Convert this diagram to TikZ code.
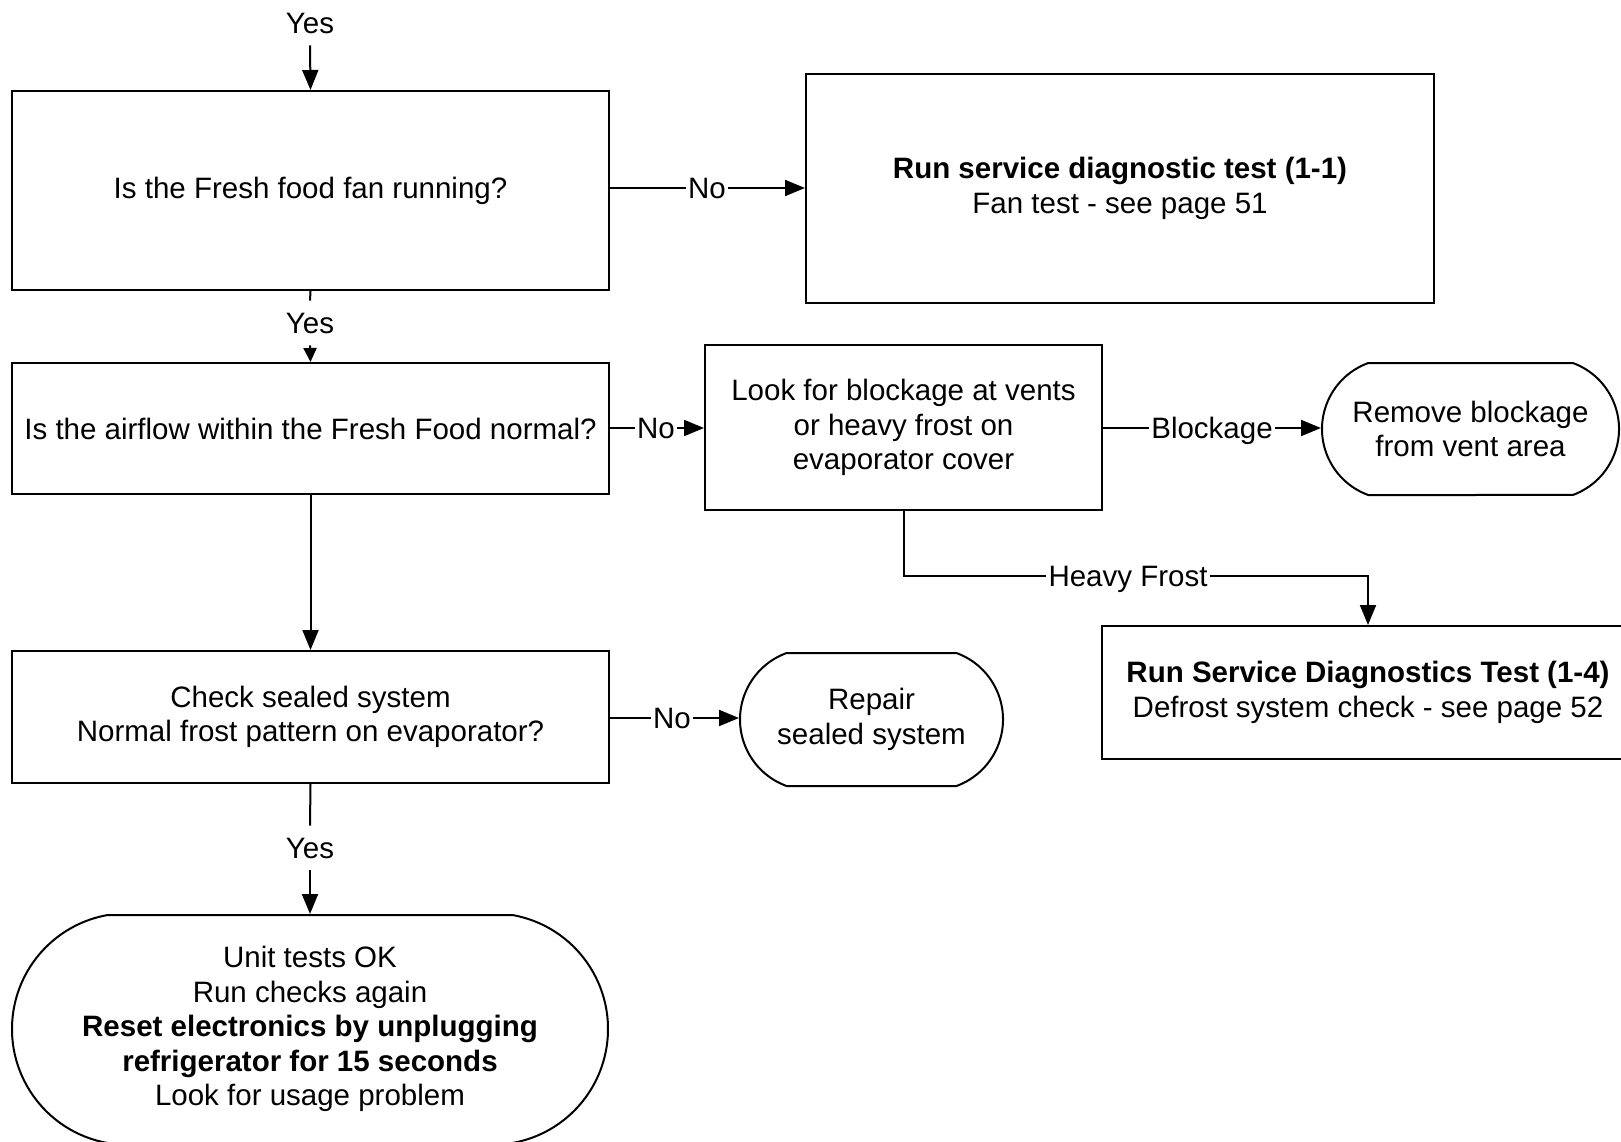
\documentclass[tikz,border=0pt]{standalone}
\usepackage{fontspec}
\setmainfont{Liberation Sans}
\usetikzlibrary{arrows.meta,shapes.misc}
\begin{document}
\begin{tikzpicture}[x=1pt,y=-1pt,
  font=\fontsize{29.5}{34.5}\selectfont,
  every node/.style={align=center},
  box/.style={draw, line width=2pt, inner sep=0pt},
  term/.style={draw, line width=2pt, inner sep=0pt, rounded rectangle, rounded rectangle arc length=140},
  hlab/.style={fill=white, inner xsep=2pt, inner ysep=0pt, text depth=0pt},
  vlab/.style={fill=white, inner xsep=2pt, inner ysep=12pt, text depth=0pt},
  conn/.style={line width=2pt},
  arr/.style={line width=2pt, -{Triangle[length=20pt,width=16pt]}},
  sarr/.style={line width=2pt, -{Triangle[length=14pt,width=13pt]}}
]
\useasboundingbox (0,0) rectangle (1621,1142);
\clip (0,0) rectangle (1621,1142);

% boxes
\node[box, minimum width=597, minimum height=199] (b1) at (310.5,190.5) {Is the Fresh food fan running?};
\node[box, minimum width=628, minimum height=229] (b2) at (1120,188.5) {\textbf{Run service diagnostic test (1-1)}\\Fan test - see page 51};
\node[box, minimum width=597, minimum height=131] (b3) at (310.5,428.5) {Is the airflow within the Fresh Food normal?};
\node[box, minimum width=397, minimum height=165] (b4) at (903.5,427.5) {Look for blockage at vents\\or heavy frost on\\evaporator cover};
\node[term, minimum width=297, minimum height=132] (rb) at (1470.5,429) {Remove blockage\\from vent area};
\node[box, minimum width=532, minimum height=133] (b5) at (1368,692.5) {\textbf{Run Service Diagnostics Test (1-4)}\\Defrost system check - see page 52};
\node[box, minimum width=597, minimum height=132] (b6) at (310.5,717) {Check sealed system\\Normal frost pattern on evaporator?};
\node[term, minimum width=263, minimum height=133] (rs) at (871.5,719.5) {Repair\\sealed system};
\node[term, rounded rectangle arc length=160, minimum width=596, minimum height=228] (ut) at (310,1029) {Unit tests OK\\Run checks again\\\textbf{Reset electronics by unplugging}\\\textbf{refrigerator for 15 seconds}\\Look for usage problem};

% labels
\node[vlab] (y1) at (310,23) {Yes};
\node[vlab] (y2) at (310,323) {Yes};
\node[vlab] (y3) at (310,848) {Yes};
\node[hlab] (n1) at (707,188) {No};
\node[hlab] (n2) at (656,428) {No};
\node[hlab] (bl) at (1212,428) {Blockage};
\node[hlab] (hf) at (1128,576) {Heavy Frost};
\node[hlab] (n3) at (672,718) {No};

% connectors
\draw[arr] (y1.south) -- (b1.north);
\draw[conn] (b1.south) -- (y2.north);
\draw[sarr] (y2.south) -- (b3.north);
\draw[conn] (b1.east |- n1) -- (n1.west);
\draw[arr] (n1.east) -- (b2.west |- n1);
\draw[conn] (b3.east |- n2) -- (n2.west);
\draw[arr] (n2.east) -- (b4.west |- n2);
\draw[conn] (b4.east |- bl) -- (bl.west);
\draw[arr] (bl.east) -- (rb.west |- bl);
\draw[conn] (b4.south) |- (hf.west);
\draw[arr] (hf.east) -| (b5.north);
\draw[arr] (b3.south) -- (b6.north);
\draw[conn] (b6.east |- n3) -- (n3.west);
\draw[arr] (n3.east) -- (rs.west |- n3);
\draw[conn] (b6.south) -- (y3.north);
\draw[arr] (y3.south) -- (ut.north);
\end{tikzpicture}
\end{document}
